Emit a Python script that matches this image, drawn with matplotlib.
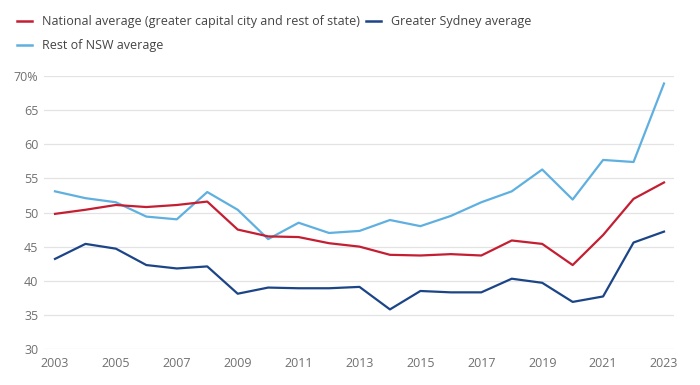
import matplotlib.pyplot as plt
from matplotlib.lines import Line2D

years = list(range(2003, 2024))
national = [49.8, 50.4, 51.1, 50.8, 51.1, 51.6, 47.5, 46.5, 46.4, 45.5, 45.0,
            43.8, 43.7, 43.9, 43.7, 45.9, 45.4, 42.3, 46.7, 52.0, 54.4]
sydney = [43.2, 45.4, 44.7, 42.3, 41.8, 42.1, 38.1, 39.0, 38.9, 38.9, 39.1,
          35.8, 38.5, 38.3, 38.3, 40.3, 39.7, 36.9, 37.7, 45.6, 47.2]
rest_nsw = [53.1, 52.1, 51.5, 49.4, 49.0, 53.0, 50.4, 46.1, 48.5, 47.0, 47.3,
            48.9, 48.0, 49.5, 51.5, 53.1, 56.3, 51.9, 57.7, 57.4, 68.9]

labels = ["National average (greater capital city and rest of state)",
          "Greater Sydney average", "Rest of NSW average"]
colors = ["#c41e32", "#1c4587", "#5fb0e0"]

yticks = [30, 35, 40, 45, 50, 55, 60, 65, 70]
ytick_labels = ["30", "35", "40", "45", "50", "55", "60", "65", "70%"]
xticks = list(range(2003, 2024, 2))

plt.rcParams['font.family'] = ['Open Sans', 'DejaVu Sans']

fig = plt.figure(figsize=(7, 3.85), dpi=100)
ax = fig.add_axes([44 / 700, 1 - 349 / 385, 630 / 700, 273 / 385])

for series, c in zip([rest_nsw, national, sydney], [colors[2], colors[0], colors[1]]):
    ax.plot(years, series, color=c, lw=1.6, solid_joinstyle="round", zorder=3)

ax.set_ylim(30, 70)
ax.set_xlim(2003 - 11 / 30.45, 2023 + 10 / 30.45)
ax.set_yticks(yticks)
ax.set_yticklabels(ytick_labels)
ax.set_xticks(xticks)
ax.grid(axis="y", color="#e3e3e3", lw=0.9)
ax.set_axisbelow(True)
for s in ax.spines.values():
    s.set_visible(False)
ax.tick_params(length=0, colors="#707070", labelsize=9)
ax.tick_params(axis="y", pad=4)
ax.tick_params(axis="x", pad=6)
for lab in ax.get_yticklabels() + ax.get_xticklabels():
    lab.set_clip_on(False)

# legend
def leg(x, y, label, c):
    fig.add_artist(Line2D([x / 700, (x + 15) / 700], [1 - y / 385] * 2, color=c, lw=1.8))
    fig.text((x + 25) / 700, 1 - y / 385, label, color="#444444", fontsize=9, va="center")

leg(17, 21, labels[0], colors[0])
leg(366, 21, labels[1], colors[1])
leg(17, 45, labels[2], colors[2])

fig.savefig("out.png", dpi=100, facecolor="white")
